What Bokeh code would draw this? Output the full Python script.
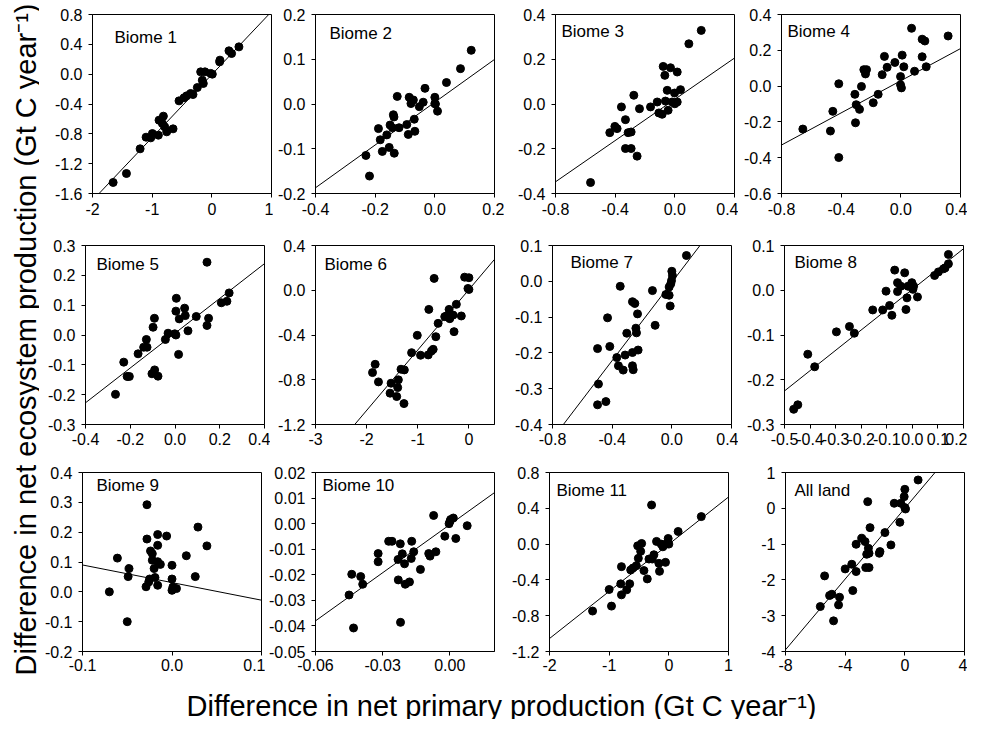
import math
from bokeh.plotting import figure
from bokeh.layouts import row, column
from bokeh.models import Range1d, FixedTicker, NumeralTickFormatter, Label
from bokeh.embed import file_html
from bokeh.resources import INLINE
from bokeh.core.properties import value

FONT = "Liberation Sans"

# ---------------- data ----------------
panel_names = ["Biome 1", "Biome 2", "Biome 3", "Biome 4", "Biome 5", "Biome 6",
               "Biome 7", "Biome 8", "Biome 9", "Biome 10", "Biome 11", "All land"]

b1_npp = [-1.654, -1.431, -1.202, -1.102, -1.024, -0.996, -0.896, -0.885, -0.812, -0.829,
          -0.790, -0.756, -0.650, -0.550, -0.466, -0.422, -0.355, -0.316, -0.243, -0.187,
          -0.160, -0.143, -0.115, 0.008, -0.020, 0.131, 0.136, 0.287, 0.331, 0.454]
b1_nep = [-1.452, -1.332, -1.001, -0.845, -0.854, -0.796, -0.818, -0.617, -0.563, -0.661,
          -0.706, -0.773, -0.733, -0.358, -0.317, -0.291, -0.259, -0.273, -0.179, 0.031,
          -0.081, -0.125, 0.031, 0.000, 0.010, 0.165, 0.188, 0.313, 0.277, 0.366]

b2_npp = [-0.231, -0.219, -0.189, -0.183, -0.176, -0.161, -0.153, -0.150, -0.142, -0.139,
          -0.137, -0.136, -0.126, -0.120, -0.094, -0.089, -0.086, -0.080, -0.072, -0.069,
          -0.067, -0.052, -0.039, -0.033, 0.000, 0.000, 0.002, 0.009, 0.039, 0.086, 0.122]
b2_nep = [-0.115, -0.161, -0.055, -0.080, -0.106, -0.069, -0.097, -0.047, -0.053, -0.024,
          -0.029, -0.110, 0.017, -0.053, -0.046, -0.068, 0.015, 0.001, 0.009, -0.034,
          -0.061, -0.006, 0.004, 0.035, 0.015, 0.001, 0.000, -0.016, 0.048, 0.079, 0.120]

b3_npp = [-0.565, -0.436, -0.402, -0.387, -0.358, -0.331, -0.331, -0.313, -0.293, -0.293,
          -0.275, -0.253, -0.237, -0.163, -0.118, -0.107, -0.085, -0.078, -0.067, -0.063,
          -0.051, -0.045, -0.029, -0.018, 0.000, 0.016, -0.002, 0.016, 0.038, 0.094, 0.177]
b3_nep = [-0.351, -0.128, -0.100, -0.110, -0.013, -0.070, -0.199, -0.128, -0.125, -0.199,
          0.039, -0.233, -0.021, -0.013, 0.009, -0.040, -0.046, 0.168, 0.128, 0.013,
          0.061, -0.028, 0.162, 0.009, 0.001, 0.143, 0.049, 0.009, 0.064, 0.269, 0.329]

b4_npp = [-0.657, -0.472, -0.456, -0.416, -0.416, -0.308, -0.304, -0.299, -0.277, -0.264,
          -0.248, -0.237, -0.230, -0.185, -0.152, -0.125, -0.110, -0.092, -0.040, -0.002,
          -0.002, 0.004, 0.009, 0.020, 0.092, 0.072, 0.143, 0.143, 0.161, 0.170, 0.317]
b4_nep = [-0.240, -0.251, -0.141, -0.399, 0.013, -0.046, -0.205, -0.104, -0.130, -0.002,
          0.092, 0.068, 0.092, -0.093, -0.046, 0.064, 0.166, 0.105, 0.132, 0.053,
          0.007, -0.010, 0.173, 0.108, 0.083, 0.323, 0.164, 0.262, 0.252, 0.108, 0.280]

b5_npp = [-0.266, -0.229, -0.214, -0.204, -0.165, -0.140, -0.128, -0.125, -0.103, -0.098,
          -0.092, -0.091, -0.076, -0.043, -0.031, -0.001, 0.004, 0.006, 0.004, 0.016,
          0.019, 0.043, 0.046, 0.058, 0.095, 0.143, 0.143, 0.150, 0.207, 0.232, 0.242]
b5_nep = [-0.199, -0.091, -0.139, -0.139, -0.063, -0.041, -0.015, -0.041, -0.130, 0.026,
          0.056, -0.117, -0.138, -0.015, 0.006, 0.004, 0.000, 0.123, 0.080, -0.065,
          0.054, 0.090, 0.065, 0.014, 0.062, 0.244, 0.032, 0.056, 0.108, 0.113, 0.141]

b6_npp = [-1.833, -1.885, -1.769, -1.522, -1.542, -1.380, -1.393, -1.412, -1.328, -1.263,
          -1.270, -1.121, -1.010, -0.946, -0.796, -0.784, -0.732, -0.699, -0.680, -0.647,
          -0.602, -0.473, -0.440, -0.388, -0.375, -0.310, -0.291, -0.246, -0.149, -0.084,
          0.000, 0.000, -0.019]
b6_nep = [-0.662, -0.736, -0.819, -0.831, -0.920, -0.801, -0.870, -0.950, -0.706, -0.712,
          -1.013, -0.558, -0.403, -0.581, -0.578, -0.171, -0.543, -0.528, 0.106, -0.415,
          -0.296, -0.236, -0.230, -0.171, -0.254, -0.222, -0.370, -0.126, -0.230, 0.117,
          0.112, 0.007, 0.016]

b7_npp = [-0.498, -0.442, -0.492, -0.498, -0.431, -0.416, -0.369, -0.358, -0.326, -0.313,
          -0.302, -0.346, -0.264, -0.264, -0.248, -0.264, -0.259, -0.241, -0.237, -0.230,
          -0.226, -0.130, -0.112, -0.040, -0.018, -0.011, -0.018, -0.002, 0.000, 0.004,
          -0.007, 0.098]
b7_nep = [-0.345, -0.336, -0.287, -0.188, -0.102, -0.182, -0.213, -0.236, -0.248, -0.206,
          -0.145, -0.014, -0.199, -0.057, -0.062, -0.236, -0.247, -0.131, -0.144, -0.091,
          -0.192, -0.026, -0.123, -0.037, -0.039, -0.069, -0.016, 0.002, 0.028, 0.016,
          -0.007, 0.072]

b8_npp = [-0.464, -0.448, -0.409, -0.382, -0.297, -0.246, -0.227, -0.155, -0.116, -0.103,
          -0.089, -0.080, -0.069, -0.058, -0.058, -0.045, -0.030, -0.025, -0.021, -0.017,
          -0.002, 0.002, 0.005, 0.020, 0.087, 0.102, 0.122, 0.128, 0.141, 0.141]
b8_nep = [-0.266, -0.256, -0.143, -0.171, -0.093, -0.081, -0.096, -0.044, -0.044, -0.002,
          -0.034, -0.056, 0.045, 0.017, -0.003, 0.009, 0.039, -0.043, -0.017, 0.009,
          0.017, 0.002, 0.009, -0.015, 0.033, 0.041, 0.048, 0.050, 0.059, 0.080]

b9_npp = [-0.070, -0.061, -0.050, -0.049, -0.048, -0.029, -0.028, -0.028, -0.026, -0.025,
          -0.024, -0.022, -0.022, -0.020, -0.019, -0.016, -0.016, -0.016, -0.016, -0.013,
          -0.006, 0.000, -0.000, 0.000, 0.001, 0.005, 0.016, 0.026, 0.029, 0.039]
b9_nep = [0.000, 0.113, -0.100, 0.051, 0.078, 0.017, 0.292, 0.177, 0.033, 0.043,
          0.137, 0.128, 0.106, 0.078, 0.048, 0.156, 0.192, 0.101, 0.022, 0.092,
          0.187, 0.089, 0.043, 0.005, 0.016, 0.011, 0.121, 0.051, 0.217, 0.154]

b10_npp = [-0.0450, -0.0438, -0.0430, -0.0398, -0.0389, -0.0320, -0.0320, -0.0273, -0.0258, -0.0231,
           -0.0230, -0.0221, -0.0220, -0.0212, -0.0202, -0.0199, -0.0180, -0.0172, -0.0170, -0.0161,
           -0.0131, -0.0094, -0.0088, -0.0072, -0.0062, -0.0022, -0.0003, 0.0001, 0.0004, 0.0016,
           0.0027, 0.0078]
b10_nep = [-0.0279, -0.0198, -0.0408, -0.0207, -0.0237, -0.0117, -0.0149, -0.0069, -0.0069, -0.0140,
           -0.0220, -0.0079, -0.0386, -0.0118, -0.0157, -0.0237, -0.0228, -0.0136, -0.0069, -0.0110,
           -0.0179, -0.0117, -0.0127, 0.0032, -0.0110, -0.0049, 0.0000, 0.0009, 0.0016, 0.0022,
           -0.0058, -0.0008]

b11_npp = [-1.278, -1.000, -0.961, -0.806, -0.794, -0.794, -0.706, -0.656, -0.639, -0.600,
           -0.544, -0.522, -0.511, -0.456, -0.472, -0.417, -0.361, -0.333, -0.289, -0.278,
           -0.250, -0.206, -0.167, -0.156, -0.128, -0.100, -0.056, -0.044, -0.011, 0.000,
           0.156, 0.544]
b11_nep = [-0.748, -0.507, -0.693, -0.444, -0.252, -0.567, -0.511, -0.444, -0.289, -0.267,
           -0.241, -0.019, -0.159, 0.007, -0.081, -0.296, -0.389, -0.167, 0.437, -0.167,
           -0.119, 0.030, -0.215, -0.304, 0.000, -0.030, -0.204, 0.000, 0.063, 0.000,
           0.141, 0.307]

all_npp = [-5.667, -5.378, -5.044, -4.889, -4.778, -4.444, -4.378, -4.000, -3.556, -3.489,
           -3.267, -3.267, -2.889, -2.667, -2.622, -2.556, -2.489, -2.444, -2.400, -2.333,
           -2.400, -1.711, -1.667, -1.333, -0.933, -0.711, -0.333, -0.267, -0.044, 0.000,
           0.000, 0.044, 0.889]
all_nep = [-2.744, -1.888, -2.437, -2.400, -3.144, -2.698, -2.484, -1.693, -1.563, -2.298,
           -1.767, -1.005, -0.837, -0.930, -1.656, -1.284, 0.186, -1.116, -1.656, -0.540,
           -1.256, -1.256, -1.209, -0.679, -1.023, 0.140, -0.391, 0.140, 0.326, 0.530,
           0.019, -0.019, 0.791]

npp_data = [b1_npp, b2_npp, b3_npp, b4_npp, b5_npp, b6_npp,
            b7_npp, b8_npp, b9_npp, b10_npp, b11_npp, all_npp]
nep_data = [b1_nep, b2_nep, b3_nep, b4_nep, b5_nep, b6_nep,
            b7_nep, b8_nep, b9_nep, b10_nep, b11_nep, all_nep]

# regression lines (slope, intercept)
fit_slope = [0.844, 0.478, 0.461, 0.449, 0.583, 0.540, 0.546, 0.454, -0.590, 0.627, 0.527, 0.494]
fit_intercept = [-0.005, 0.004, 0.021, 0.030, 0.006, 0.006, -0.003, 0.002, 0.031, -0.0004, -0.001, 0.0]

# axes
x_ranges = [(-2, 1), (-0.4, 0.2), (-0.8, 0.4), (-0.8, 0.4), (-0.4, 0.4), (-3, 0.5),
            (-0.8, 0.4), (-0.5, 0.2), (-0.1, 0.1), (-0.06, 0.02), (-2, 1), (-8, 4)]
y_ranges = [(-1.6, 0.8), (-0.2, 0.2), (-0.4, 0.4), (-0.6, 0.4), (-0.3, 0.3), (-1.2, 0.4),
            (-0.4, 0.1), (-0.3, 0.1), (-0.2, 0.4), (-0.05, 0.02), (-1.2, 0.8), (-4, 1)]
x_ticks = [[-2, -1, 0, 1], [-0.4, -0.2, 0.0, 0.2], [-0.8, -0.4, 0.0, 0.4], [-0.8, -0.4, 0.0, 0.4],
           [-0.4, -0.2, 0.0, 0.2, 0.4], [-3, -2, -1, 0], [-0.8, -0.4, 0.0, 0.4],
           [-0.5, -0.4, -0.3, -0.2, -0.1, 0.0, 0.1, 0.2], [-0.1, 0.0, 0.1],
           [-0.06, -0.03, 0.0], [-2, -1, 0, 1], [-8, -4, 0, 4]]
y_ticks = [[-1.6, -1.2, -0.8, -0.4, 0.0, 0.4, 0.8], [-0.2, -0.1, 0.0, 0.1, 0.2],
           [-0.4, -0.2, 0.0, 0.2, 0.4], [-0.6, -0.4, -0.2, 0.0, 0.2, 0.4],
           [-0.3, -0.2, -0.1, 0.0, 0.1, 0.2, 0.3], [-1.2, -0.8, -0.4, 0.0, 0.4],
           [-0.4, -0.3, -0.2, -0.1, 0.0, 0.1], [-0.3, -0.2, -0.1, 0.0, 0.1],
           [-0.2, -0.1, 0.0, 0.1, 0.2, 0.3, 0.4],
           [-0.05, -0.04, -0.03, -0.02, -0.01, 0.0, 0.01, 0.02],
           [-1.2, -0.8, -0.4, 0.0, 0.4, 0.8], [-4, -3, -2, -1, 0, 1]]
x_fmt = ["0", "0.0", "0.0", "0.0", "0.0", "0", "0.0", "0.0", "0.0", "0.00", "0", "0"]
y_fmt = ["0.0", "0.0", "0.0", "0.0", "0.0", "0.0", "0.0", "0.0", "0.0", "0.00", "0.0", "0"]

x_title = "Difference in net primary production (Gt C year\u207b\u00b9)"
y_title = "Difference in net ecosystem production (Gt C year\u207b\u00b9)"

# ---------------- layout (pixels) ----------------
FW = 179
FH = 179
# (left, right, top, bottom) borders per panel
borders = [(53, 2, 8, 35), (42, 10, 10, 33), (51, 4, 14, 29), (43, 7, 12, 31),
           (46, 6, 23, 28), (45, 8, 19, 32), (50, 7, 17, 34), (46, 4, 16, 35),
           (43, 4, 20, 26), (50, 8, 18, 28), (47, 8, 13, 33), (49, 3, 12, 34)]
x_standoff = [5, 5, 5, 5, 4, 4, 4, 4, 3, 3, 3, 3]
# label offset from frame top-left (px)
label_off = [(22, 23), (14, 19), (6, 17), (6, 17), (11, 19), (9, 19),
             (18, 17), (10, 17), (14, 13), (7, 13), (7, 18), (9, 18)]

TICK_PX = "16px"


def make_panel(i):
    l, r, t, b = borders[i]
    x0, x1 = x_ranges[i]
    y0, y1 = y_ranges[i]
    p = figure(frame_width=FW, frame_height=FH, x_range=Range1d(x0, x1), y_range=Range1d(y0, y1),
               output_backend="svg", toolbar_location=None,
               min_border_left=l, min_border_right=r, min_border_top=t, min_border_bottom=b)
    p.background_fill_color = "white"
    p.border_fill_color = "white"
    p.outline_line_color = "black"
    p.outline_line_width = 1
    p.outline_line_alpha = 1
    p.xgrid.visible = False
    p.ygrid.visible = False
    for ax, ticks, fmt in ((p.xaxis[0], x_ticks[i], x_fmt[i]), (p.yaxis[0], y_ticks[i], y_fmt[i])):
        ax.ticker = FixedTicker(ticks=ticks, minor_ticks=[])
        ax.formatter = NumeralTickFormatter(format=fmt)
        ax.major_tick_out = 4
        ax.major_tick_in = 0
        ax.minor_tick_out = 0
        ax.minor_tick_in = 0
        ax.axis_line_color = "black"
        ax.major_tick_line_color = "black"
        ax.major_label_text_font = FONT
        ax.major_label_text_font_size = TICK_PX
        ax.major_label_text_color = "black"
    p.xaxis[0].major_label_standoff = x_standoff[i]
    p.yaxis[0].major_label_standoff = 6

    # regression line over the whole axis range
    xs = [x0, x1]
    ys = [fit_intercept[i] + fit_slope[i] * x for x in xs]
    p.line(xs, ys, line_color="black", line_width=1)

    p.scatter(npp_data[i], nep_data[i], marker="circle", size=8,
              fill_color="black", line_color="black")

    dx, dy = label_off[i]
    lab = Label(x=x0 + dx / FW * (x1 - x0), y=y1 - dy / FH * (y1 - y0), text=panel_names[i],
                text_font=FONT, text_font_size="17px", text_color="black",
                text_align="left", text_baseline="middle")
    p.add_layout(lab)
    return p


panels = [make_panel(i) for i in range(12)]

TITLE_PX_Y = 29
TITLE_PX_X = 29


def blank_fig(w, h):
    f = figure(frame_width=w, frame_height=h, x_range=Range1d(0, w), y_range=Range1d(0, h),
               x_axis_type=None, y_axis_type=None,
               output_backend="svg", toolbar_location=None, min_border=0)
    f.grid.visible = False
    f.outline_line_color = None
    f.background_fill_color = "white"
    f.border_fill_color = "white"
    return f


# y-axis title figure (rotated, reads bottom to top), spans page x 8..47, y 8..685
YT_W, YT_H = 39, 677
yt = blank_fig(YT_W, YT_H)
yt.text(x=[25], y=[YT_H - 3], text=[y_title], angle=math.pi / 2,
        text_font=value(FONT), text_font_size=f"{TITLE_PX_Y}px", text_align="right",
        text_baseline="alphabetic", text_color="black")

# x-axis title figure, spans page y 685..727
XT_W, XT_H = 964, 42
xt = blank_fig(XT_W, XT_H)
xt.text(x=[512 - 11], y=[14], text=[x_title],
        text_font=value(FONT), text_font_size=f"{TITLE_PX_X}px", text_align="center",
        text_baseline="alphabetic", text_color="black")

grid = column(row(*panels[0:4]), row(*panels[4:8]), row(*panels[8:12]))
layout = column(row(yt, grid), xt)

open("out.html", "w").write(file_html(layout, INLINE))
